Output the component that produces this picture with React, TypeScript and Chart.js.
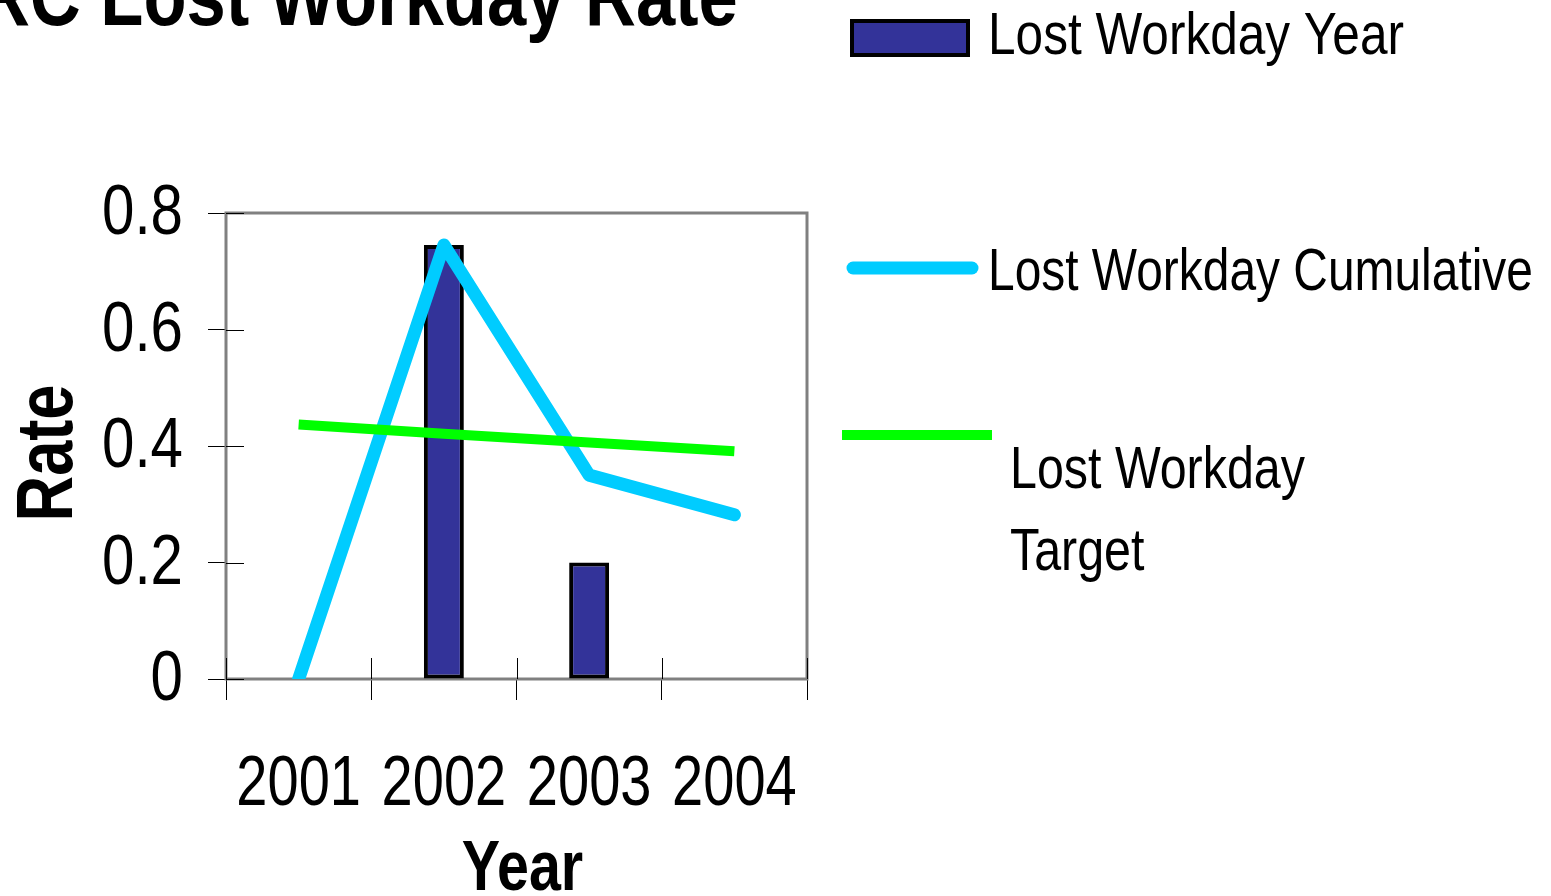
import React, { useEffect, useRef } from "react";
import { Chart, registerables } from "chart.js";

Chart.register(...registerables);

// ---- data ----
const CHART_TITLE = "ARC Lost Workday Rate";
const YEARS = ["2001", "2002", "2003", "2004"];
const SERIES_NAMES = ["Lost Workday Year", "Lost Workday Cumulative", "Lost Workday Target"];
const LOST_WORKDAY_YEAR = [0, 0.745, 0.2, 0];
const LOST_WORKDAY_CUMULATIVE = [0, 0.745, 0.35, 0.282];
const LOST_WORKDAY_TARGET = [0.437, 0.421, 0.406, 0.391];
const Y_MIN = 0;
const Y_MAX = 0.8;
const Y_STEP = 0.2;
const X_TITLE = "Year";
const Y_TITLE = "Rate";

const FONT = "'Liberation Sans', Arial, sans-serif";
const BAR_COLOR = "#333399";
const CUM_COLOR = "#00CCFF";
const TARGET_COLOR = "#00FF00";

// draws horizontally condensed text (Arial Narrow look)
function drawText(
  ctx: CanvasRenderingContext2D,
  text: string,
  x: number,
  y: number,
  size: number,
  bold: boolean,
  align: CanvasTextAlign,
  sx: number,
  rot = 0
) {
  ctx.save();
  ctx.translate(x, y);
  if (rot) ctx.rotate(rot);
  ctx.scale(sx, 1);
  ctx.font = `${bold ? "bold " : ""}${size}px ${FONT}`;
  ctx.textAlign = align;
  ctx.textBaseline = "alphabetic";
  ctx.fillStyle = "#000";
  ctx.fillText(text, 0, 0);
  ctx.restore();
}

const overlayPlugin = {
  id: "overlay",
  beforeDatasetsDraw(chart: any) {
    const { ctx, chartArea: a } = chart;
    ctx.save();
    // plot frame
    ctx.strokeStyle = "#808080";
    ctx.lineWidth = 3;
    ctx.strokeRect(a.left, a.top, a.right - a.left, a.bottom - a.top);
    // inner halves of tick marks
    ctx.strokeStyle = "#000";
    ctx.lineWidth = 1;
    const ys = chart.scales.y;
    ys.ticks.forEach((_: any, i: number) => {
      const py = Math.round(ys.getPixelForTick(i)) + 0.5;
      ctx.beginPath();
      ctx.moveTo(a.left, py);
      ctx.lineTo(a.left + 18, py);
      ctx.stroke();
    });
    const xs = chart.scales.x;
    for (let i = 0; i <= YEARS.length; i++) {
      const px = Math.round(xs.getPixelForValue(i - 0.5)) + 0.5;
      ctx.beginPath();
      ctx.moveTo(px, a.bottom - 21);
      ctx.lineTo(px, a.bottom);
      ctx.stroke();
    }
    ctx.restore();
  },
  afterDraw(chart: any) {
    const { ctx, chartArea: a } = chart;
    const ys = chart.scales.y;
    const xs = chart.scales.x;

    // y tick labels
    ys.ticks.forEach((t: any) => {
      const py = ys.getPixelForValue(t.value);
      drawText(ctx, String(t.label), a.left - 43, py + 21, 71, false, "right", 0.82);
    });
    // x tick labels
    xs.ticks.forEach((t: any, i: number) => {
      const px = xs.getPixelForValue(i);
      drawText(ctx, String(t.label), px, 805, 70, false, "center", 0.8);
    });
    // axis titles
    drawText(ctx, X_TITLE, (a.left + a.right) / 2 + 6, 890, 70, true, "center", 0.82);
    drawText(ctx, Y_TITLE, 72, (a.top + a.bottom) / 2 + 7, 80, true, "center", 0.79, -Math.PI / 2);

    // title (partially cut off at top, as in the reference)
    drawText(ctx, CHART_TITLE, -72, 25, 86, true, "left", 0.82);

    // legend
    ctx.save();
    ctx.fillStyle = BAR_COLOR;
    ctx.fillRect(852, 21, 116, 34);
    ctx.strokeStyle = "#000";
    ctx.lineWidth = 4;
    ctx.strokeRect(852, 21, 116, 34);

    ctx.strokeStyle = CUM_COLOR;
    ctx.lineWidth = 13;
    ctx.lineCap = "round";
    ctx.beginPath();
    ctx.moveTo(853, 268);
    ctx.lineTo(972, 268);
    ctx.stroke();

    ctx.strokeStyle = TARGET_COLOR;
    ctx.lineWidth = 10;
    ctx.lineCap = "butt";
    ctx.beginPath();
    ctx.moveTo(842, 435);
    ctx.lineTo(992, 435);
    ctx.stroke();
    ctx.restore();

    drawText(ctx, SERIES_NAMES[0], 988, 54, 59, false, "left", 0.84);
    drawText(ctx, SERIES_NAMES[1], 988, 290, 59, false, "left", 0.812);
    const words = SERIES_NAMES[2].split(" ");
    drawText(ctx, words.slice(0, 2).join(" "), 1010, 488, 59, false, "left", 0.82);
    drawText(ctx, words.slice(2).join(" "), 1010, 570, 59, false, "left", 0.82);
  },
};

export default function App() {
  const ref = useRef<HTMLCanvasElement | null>(null);

  useEffect(() => {
    const canvas = ref.current;
    if (!canvas) return;
    const chart = new Chart(canvas, {
      type: "bar",
      data: {
        labels: YEARS,
        datasets: [
          {
            type: "line",
            label: SERIES_NAMES[2],
            data: LOST_WORKDAY_TARGET,
            borderColor: TARGET_COLOR,
            backgroundColor: TARGET_COLOR,
            borderWidth: 10,
            pointRadius: 0,
            tension: 0,
            fill: false,
            borderCapStyle: "butt",
            order: 0,
            clip: 0,
          } as any,
          {
            type: "line",
            label: SERIES_NAMES[1],
            data: LOST_WORKDAY_CUMULATIVE,
            borderColor: CUM_COLOR,
            backgroundColor: CUM_COLOR,
            borderWidth: 13,
            pointRadius: 0,
            tension: 0,
            fill: false,
            borderCapStyle: "round",
            borderJoinStyle: "round",
            order: 1,
            clip: 0,
          } as any,
          {
            type: "bar",
            label: SERIES_NAMES[0],
            data: LOST_WORKDAY_YEAR,
            backgroundColor: BAR_COLOR,
            borderColor: "#000000",
            borderWidth: 4,
            borderSkipped: false,
            barPercentage: 0.275,
            categoryPercentage: 1,
            order: 2,
          } as any,
        ],
      },
      options: {
        responsive: false,
        animation: false,
        devicePixelRatio: 1,
        layout: { padding: { left: 0, top: 213, right: 744, bottom: 0 } },
        plugins: {
          legend: { display: false },
          title: { display: false },
          tooltip: { enabled: false },
        },
        scales: {
          x: {
            type: "category",
            offset: true,
            grid: {
              display: true,
              offset: true,
              drawOnChartArea: false,
              drawTicks: true,
              tickLength: 21,
              color: "#000",
              lineWidth: 1,
            },
            border: { display: false },
            ticks: { display: false, autoSkip: false, maxRotation: 0 },
            title: { display: false, text: X_TITLE },
            afterFit: (s: any) => {
              s.height = 217;
            },
          } as any,
          y: {
            type: "linear",
            min: Y_MIN,
            max: Y_MAX,
            grid: {
              display: true,
              drawOnChartArea: false,
              drawTicks: true,
              tickLength: 18,
              color: "#000",
              lineWidth: 1,
            },
            border: { display: false },
            ticks: {
              display: false,
              stepSize: Y_STEP,
              callback: (v: any) => String(Math.round(Number(v) * 10) / 10),
            },
            title: { display: false, text: Y_TITLE },
            afterFit: (s: any) => {
              s.width = 226;
            },
          } as any,
        },
      },
      plugins: [overlayPlugin],
    });
    return () => chart.destroy();
  }, []);

  return (
    <div style={{ position: "absolute", left: 0, top: 0, width: 1551, height: 896, background: "#fff" }}>
      <canvas ref={ref} width={1551} height={896} style={{ display: "block" }} />
    </div>
  );
}
